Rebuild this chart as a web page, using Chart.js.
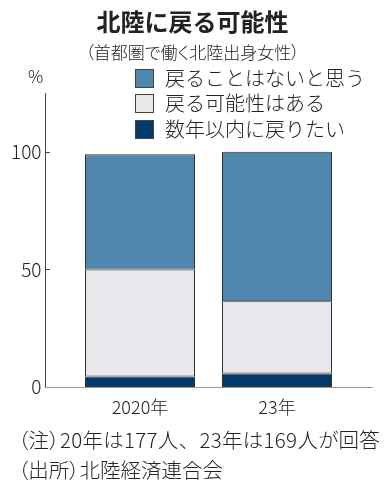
<!DOCTYPE html>
<html lang="ja">
<head>
<meta charset="utf-8">
<script src="https://cdn.jsdelivr.net/npm/chart.js@4"></script>
<style>
  html, body { margin: 0; padding: 0; background: #fff; }
  #wrap { position: relative; width: 385px; height: 488px; overflow: hidden;
          font-family: "Noto Sans CJK JP", sans-serif; font-weight: 300; color: #222; }
  #wrap canvas { position: absolute; left: 0; top: 0; }
  .t { position: absolute; line-height: 1; white-space: nowrap; }
  .p { font-feature-settings: "palt"; }
  .n { font-feature-settings: normal; }
  .lg { position: absolute; left: 135px; width: 19px; height: 19px; border: 1px solid #444; box-sizing: border-box; }
</style>
</head>
<body>
<div id="wrap">
  <canvas id="c" width="385" height="488"></canvas>
  <div class="t" style="left:0;width:385px;text-align:center;top:9px;font-size:24px;font-weight:bold;">北陸に戻る可能性</div>
  <div class="t p" style="left:0;width:385px;text-align:center;top:43px;font-size:17px;">（首都圏で働く北陸出身女性）</div>
  <div class="t" style="left:28px;top:67px;font-size:17px;">%</div>
  <div id="legend"></div>
  <div class="t p" style="left:18px;top:429px;font-size:20.5px;letter-spacing:0.3px;">（注）20年は177人<span class="n">、</span>23年は169人が回答</div>
  <div class="t p" style="left:18px;top:459px;font-size:20.5px;">（出所）北陸経済連合会</div>
</div>
<script>
const categories = ["2020年", "23年"];
const seriesNames = ["数年以内に戻りたい", "戻る可能性はある", "戻ることはないと思う"];
const wantBack = [4.5, 5.7];
const maybeBack = [45.5, 30.8];
const neverBack = [49, 63.5];
const yTicks = [0, 50, 100];

const colors = ["#023a6b", "#e7e8ec", "#4f87ae"];

// 凡例（上から：戻ることはない／可能性あり／戻りたい）
const legendTops = [69, 94, 120];
const legend = document.getElementById("legend");
[2, 1, 0].forEach((i, row) => {
  const box = document.createElement("div");
  box.className = "lg";
  box.style.top = legendTops[row] + "px";
  box.style.background = colors[i];
  legend.appendChild(box);
  const txt = document.createElement("div");
  txt.className = "t";
  txt.style.left = "165px";
  txt.style.top = (legendTops[row] - 1) + "px";
  txt.style.fontSize = "20px";
  txt.textContent = seriesNames[i];
  legend.appendChild(txt);
});

// 軸線と目盛り
const axisPlugin = {
  id: "axisLines",
  afterDraw(chart) {
    const { ctx } = chart;
    const y = chart.scales.y;
    const top = y.getPixelForValue(y.max);
    const base = Math.round(y.getPixelForValue(0)) + 0.5;
    ctx.save();
    ctx.lineWidth = 1;
    ctx.strokeStyle = "#444";
    ctx.beginPath();
    ctx.moveTo(45.5, top);
    ctx.lineTo(45.5, base);
    yTicks.forEach(v => {
      const p = Math.round(y.getPixelForValue(v)) + 0.5;
      ctx.moveTo(45, p);
      ctx.lineTo(50, p);
    });
    ctx.stroke();
    ctx.strokeStyle = "#999";
    ctx.beginPath();
    ctx.moveTo(45, base);
    ctx.lineTo(373, base);
    ctx.stroke();
    ctx.restore();
  }
};

const numFont = "'Noto Sans CJK JP', sans-serif";

new Chart(document.getElementById("c"), {
  type: "bar",
  data: {
    labels: categories,
    datasets: [wantBack, maybeBack, neverBack].map((d, i) => ({
      label: seriesNames[i],
      data: d,
      backgroundColor: colors[i],
      borderColor: "#333",
      borderWidth: 1,
      borderSkipped: false,
      categoryPercentage: 1,
      barPercentage: 0.803
    }))
  },
  options: {
    responsive: false,
    animation: false,
    layout: { padding: { top: 93, right: 39.5, bottom: 70, left: 0 } },
    plugins: { legend: { display: false }, tooltip: { enabled: false } },
    scales: {
      x: {
        stacked: true,
        border: { display: false },
        grid: { display: false, drawTicks: false },
        ticks: { color: "#222", padding: 9, font: { family: numFont, weight: "300", size: 18 } },
        afterFit: s => { s.height = 31; }
      },
      y: {
        stacked: true,
        min: 0,
        max: 125,
        border: { display: false },
        grid: { display: false, drawTicks: false },
        afterBuildTicks: s => { s.ticks = yTicks.map(v => ({ value: v })); },
        ticks: { color: "#222", padding: 30, font: { family: numFont, weight: "300", size: 19 } },
        afterFit: s => { s.width = 71.5; }
      }
    }
  },
  plugins: [axisPlugin]
});
</script>
</body>
</html>
